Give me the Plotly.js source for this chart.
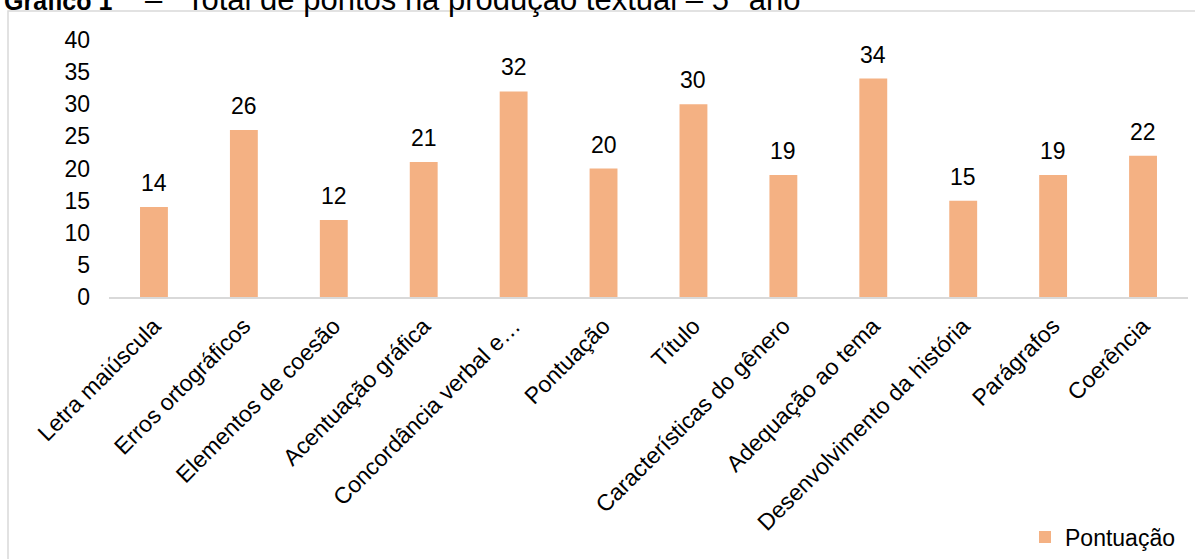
<!DOCTYPE html>
<html>
<head>
<meta charset="utf-8">
<script src="https://cdn.plot.ly/plotly-3.0.1.min.js"></script>
<style>
  html, body { margin: 0; padding: 0; background: #fff; overflow: hidden; }
  #chart { width: 1195px; height: 559px; }
</style>
</head>
<body>
<div id="chart"></div>
<script>
const categories = [
  "Letra maiúscula",
  "Erros ortográficos",
  "Elementos de coesão",
  "Acentuação gráfica",
  "Concordância verbal e…",
  "Pontuação",
  "Título",
  "Características do gênero",
  "Adequação ao tema",
  "Desenvolvimento da história",
  "Parágrafos",
  "Coerência"
];
const pontuacao = [14, 26, 12, 21, 32, 20, 30, 19, 34, 15, 19, 22];
const seriesName = "Pontuação";
const yTicks = [0, 5, 10, 15, 20, 25, 30, 35, 40];
const titleLead = "Gráfico 1";
const titleDash = "–";
const titleRest = "Total de pontos na produção textual – 5º ano";

const FONT = "Liberation Sans, Arial, sans-serif";

// pixel helpers for paper coordinates (plot area: x 109..1188, y 40..297)
const PL = 109, PW = 1079, PB = 297, PH = 257;
const px = v => (v - PL) / PW;
const py = v => (PB - v) / PH;

const trace = {
  type: "bar",
  x: categories,
  y: pontuacao,
  name: seriesName,
  marker: { color: "#F4B183" },
  hoverinfo: "x+y",
  showlegend: true
};

const labelAnnotations = categories.map((c, i) => ({
  x: c,
  y: pontuacao[i],
  xref: "x",
  yref: "y",
  text: String(pontuacao[i]),
  showarrow: false,
  yanchor: "bottom",
  yshift: 9,
  font: { family: FONT, size: 23, color: "#000" }
}));

const titleAnnotations = [
  {
    xref: "paper", yref: "paper",
    x: px(2), y: py(16.5),
    xanchor: "left", yanchor: "bottom",
    text: "<b>" + titleLead + "</b>",
    showarrow: false,
    font: { family: FONT, size: 25, color: "#000" }
  },
  {
    xref: "paper", yref: "paper",
    x: px(143), y: py(19),
    xanchor: "left", yanchor: "bottom",
    text: titleDash,
    showarrow: false,
    font: { family: FONT, size: 31, color: "#000" }
  },
  {
    xref: "paper", yref: "paper",
    x: px(184), y: py(19),
    xanchor: "left", yanchor: "bottom",
    text: titleRest,
    showarrow: false,
    font: { family: FONT, size: 31, color: "#000" }
  }
];

const layout = {
  width: 1195,
  height: 559,
  margin: { l: 109, r: 7, t: 40, b: 262, autoexpand: false },
  paper_bgcolor: "#fff",
  plot_bgcolor: "#fff",
  font: { family: FONT, color: "#000" },
  bargap: 0.69,
  xaxis: {
    type: "category",
    tickangle: -45,
    tickfont: { family: FONT, size: 23, color: "#000" },
    showline: true,
    linecolor: "#d9d9d9",
    linewidth: 1.5,
    showgrid: false,
    ticks: "",
    ticklabelstandoff: 5,
    automargin: false,
    fixedrange: true
  },
  yaxis: {
    range: [0, 40],
    tickvals: yTicks,
    ticktext: yTicks.map(String),
    tickfont: { family: FONT, size: 23, color: "#000" },
    showgrid: false,
    zeroline: false,
    showline: false,
    ticks: "",
    ticklabelstandoff: 18,
    automargin: false,
    fixedrange: true
  },
  legend: {
    x: px(1025),
    xanchor: "left",
    y: py(537),
    yanchor: "middle",
    font: { family: FONT, size: 23, color: "#000" },
    bgcolor: "rgba(0,0,0,0)"
  },
  shapes: [{
    type: "rect",
    xref: "paper", yref: "paper",
    x0: px(8), x1: px(1220),
    y0: py(600), y1: py(11),
    line: { color: "#d9d9d9", width: 1.5 },
    fillcolor: "rgba(0,0,0,0)",
    layer: "below"
  }],
  annotations: labelAnnotations.concat(titleAnnotations)
};

Plotly.newPlot("chart", [trace], layout, { displayModeBar: false, staticPlot: true });
</script>
</body>
</html>
